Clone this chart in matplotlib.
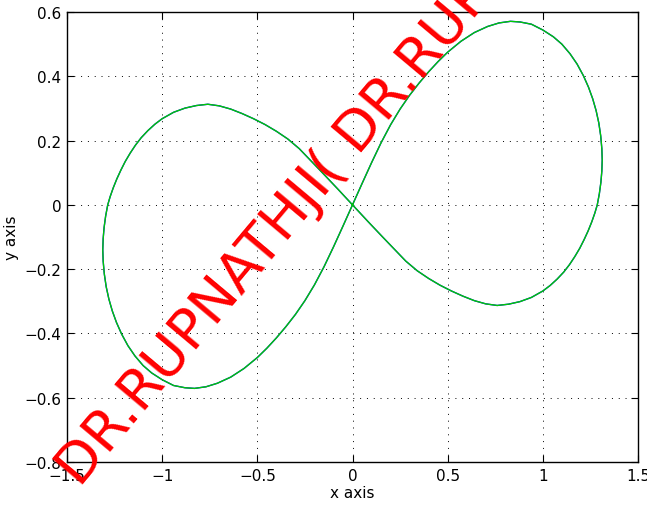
import matplotlib
matplotlib.use("Agg")
import matplotlib.pyplot as plt
import numpy as np

# right lobe: from the origin up to the right, round clockwise, back to the origin
right_x = [0.000, 0.050, 0.100, 0.150, 0.200, 0.250, 0.300, 0.350, 0.400, 0.450,
           0.500, 0.570, 0.640, 0.710, 0.770, 0.830, 0.880, 0.940, 1.000, 1.055,
           1.100, 1.143, 1.180, 1.213, 1.240, 1.262, 1.280, 1.294, 1.304, 1.310,
           1.312, 1.310, 1.305, 1.297, 1.286, 1.273, 1.257, 1.238, 1.217, 1.194,
           1.168, 1.140, 1.110, 1.075, 1.038, 1.000, 0.940, 0.880, 0.820, 0.760,
           0.700, 0.640, 0.580, 0.520, 0.460, 0.400, 0.340, 0.280, 0.220, 0.160,
           0.080, 0.000]
right_y = [0.000, 0.066, 0.131, 0.193, 0.249, 0.298, 0.341, 0.379, 0.414, 0.446,
           0.475, 0.509, 0.536, 0.555, 0.566, 0.571, 0.569, 0.562, 0.544, 0.523,
           0.500, 0.470, 0.438, 0.402, 0.366, 0.330, 0.293, 0.255, 0.215, 0.175,
           0.140, 0.105, 0.070, 0.035, 0.000, -0.026, -0.053, -0.081, -0.108, -0.135,
           -0.161, -0.186, -0.209, -0.231, -0.251, -0.268, -0.288, -0.301, -0.309, -0.313,
           -0.308, -0.298, -0.284, -0.268, -0.250, -0.229, -0.205, -0.175, -0.138, -0.101,
           -0.051, 0.000]

# left lobe: from the origin up to the left, round, back to the origin
left_x = [-0.080, -0.160, -0.220, -0.280, -0.340, -0.400, -0.460, -0.520, -0.580, -0.640,
          -0.700, -0.760, -0.820, -0.880, -0.940, -1.000, -1.038, -1.075, -1.110, -1.140,
          -1.168, -1.194, -1.217, -1.238, -1.257, -1.273, -1.286, -1.297, -1.305, -1.310,
          -1.312, -1.310, -1.304, -1.294, -1.280, -1.262, -1.240, -1.213, -1.180, -1.143,
          -1.100, -1.055, -1.000, -0.940, -0.880, -0.830, -0.770, -0.710, -0.640, -0.570,
          -0.500, -0.450, -0.400, -0.350, -0.300, -0.250, -0.200, -0.150, -0.100, -0.050,
          0.000]
left_y = [0.051, 0.101, 0.138, 0.175, 0.205, 0.229, 0.250, 0.268, 0.284, 0.298,
          0.308, 0.313, 0.309, 0.301, 0.288, 0.268, 0.251, 0.231, 0.209, 0.186,
          0.161, 0.135, 0.108, 0.081, 0.053, 0.026, 0.000, -0.035, -0.070, -0.105,
          -0.140, -0.175, -0.215, -0.255, -0.293, -0.330, -0.366, -0.402, -0.438, -0.470,
          -0.500, -0.523, -0.544, -0.562, -0.569, -0.571, -0.566, -0.555, -0.536, -0.509,
          -0.475, -0.446, -0.414, -0.379, -0.341, -0.298, -0.249, -0.193, -0.131, -0.066,
          0.000]

x_ticks = [-1.5, -1, -0.5, 0, 0.5, 1, 1.5]
x_labels = ["\u22121.5", "\u22121", "\u22120.5", "0", "0.5", "1", "1.5"]
y_ticks = [-0.8, -0.6, -0.4, -0.2, 0, 0.2, 0.4, 0.6]
y_labels = ["\u22120.8", "\u22120.6", "\u22120.4", "\u22120.2", "0", "0.2", "0.4", "0.6"]
watermark = "DR.RUPNATHJI( DR.RUPNATHJI( DR.RUPNATHJI("

W, H = 647, 510
fig = plt.figure(figsize=(W / 100, H / 100), dpi=100)
ax = fig.add_axes([67 / W, 47 / H, 571 / W, 450 / H])

x = np.concatenate([right_x, left_x])
y = np.concatenate([right_y, left_y])
ax.plot(x, y, color="#0000ff", lw=1.0, solid_joinstyle="round")
ax.plot(x, y, color="#00cc00", lw=0.95, solid_joinstyle="round")

ax.set_xlim(-1.5, 1.5)
ax.set_ylim(-0.8, 0.6)
ax.set_xticks(x_ticks)
ax.set_xticklabels(x_labels)
ax.set_yticks(y_ticks)
ax.set_yticklabels(y_labels)
ax.tick_params(direction="in", top=True, right=True, length=5, width=0.8,
               labelsize=11, pad=4)
ax.grid(True, linestyle=(0, (1, 6)), color="k", lw=0.7)
for s in ax.spines.values():
    s.set_linewidth(1.0)
ax.set_xlabel("x axis", fontsize=11, labelpad=2)
ax.set_ylabel("y axis", fontsize=11, labelpad=4)

fig.text(80 / W, 1 - 488 / H, watermark, color="#ff0000", fontsize=40,
         rotation=50, rotation_mode="anchor", ha="left", va="baseline",
         zorder=10)

fig.savefig("out.png", dpi=100)
